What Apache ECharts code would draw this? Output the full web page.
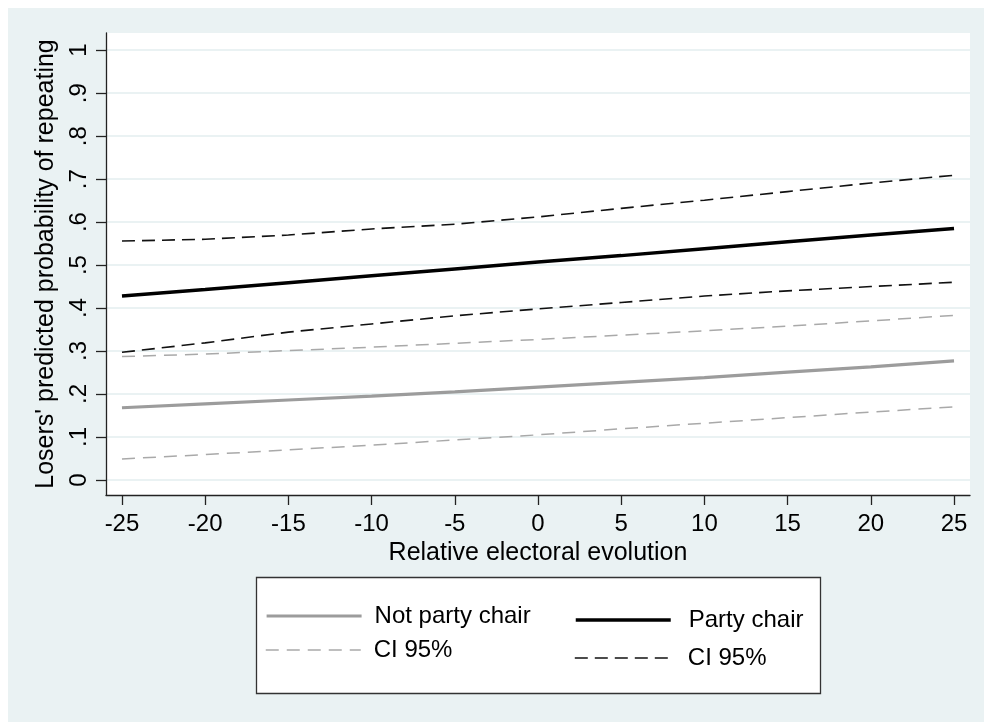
<!DOCTYPE html>
<html>
<head>
<meta charset="utf-8">
<script src="https://cdn.jsdelivr.net/npm/echarts@6/dist/echarts.min.js"></script>
<style>
  html, body { margin: 0; padding: 0; background: #ffffff; width: 984px; height: 722px; overflow: hidden; }
  #chart { position: absolute; left: 8px; top: 8px; width: 976px; height: 714px; }
</style>
</head>
<body>
<div id="chart"></div>
<script>
// ---- data ----
const xValues = [-25, -20, -15, -10, -5, 0, 5, 10, 15, 20, 25];
const notChair      = [0.168, 0.177, 0.186, 0.195, 0.205, 0.216, 0.227, 0.238, 0.251, 0.263, 0.277];
const notChairUpper = [0.287, 0.293, 0.301, 0.309, 0.318, 0.327, 0.337, 0.347, 0.358, 0.370, 0.383];
const notChairLower = [0.049, 0.059, 0.070, 0.081, 0.093, 0.105, 0.119, 0.132, 0.145, 0.158, 0.170];
const chair         = [0.428, 0.443, 0.459, 0.475, 0.491, 0.507, 0.522, 0.538, 0.554, 0.570, 0.585];
const chairUpper    = [0.556, 0.560, 0.570, 0.584, 0.595, 0.612, 0.632, 0.651, 0.671, 0.691, 0.709];
const chairLower    = [0.297, 0.319, 0.344, 0.363, 0.382, 0.398, 0.413, 0.428, 0.440, 0.450, 0.460];
const xTicks = [-25, -20, -15, -10, -5, 0, 5, 10, 15, 20, 25];
const yTicks = [0, 0.1, 0.2, 0.3, 0.4, 0.5, 0.6, 0.7, 0.8, 0.9, 1];
const xTitle = 'Relative electoral evolution';
const yTitle = "Losers' predicted probability of repeating";
const nameNotChair = 'Not party chair';
const nameChair = 'Party chair';
const nameCINot = 'CI 95% (not party chair)';
const nameCIChair = 'CI 95% (party chair)';
const ciLabel = 'CI 95%';

const pairs = (ys) => xValues.map((x, i) => [x, ys[i]]);
const FONT = 'Liberation Sans, Arial, sans-serif';

const chart = echarts.init(document.getElementById('chart'), null, { renderer: 'canvas' });

function yFmt(v) {
  const r = Math.round(v * 10) / 10;
  if (r === 0) return '0';
  if (r === 1) return '1';
  return String(r).replace(/^0/, '');
}

const grayDash = { color: '#a9a9a9', width: 1.5, type: [13, 8] };
const blackDash = { color: '#111111', width: 1.6, type: [13, 7] };

function legendAt(name, left, top, padLeft, lineWidth, formatter) {
  return {
    data: [name],
    left: left,
    top: top,
    padding: 0,
    itemWidth: 95,
    itemHeight: 14,
    selectedMode: false,
    itemStyle: { opacity: 0 },
    lineStyle: { width: lineWidth },
    formatter: formatter || '{name}',
    textStyle: { fontFamily: FONT, fontSize: 24, color: '#000', padding: [0, 0, 0, padLeft] }
  };
}

const option = {
  backgroundColor: '#eaf2f3',
  animation: false,
  grid: {
    left: 98, top: 25, width: 864, height: 462,
    show: true, backgroundColor: '#ffffff', borderWidth: 0,
    containLabel: false
  },
  xAxis: {
    type: 'value',
    min: -25.96, max: 25.96,
    name: xTitle,
    nameLocation: 'middle',
    nameGap: 42,
    nameTextStyle: { fontFamily: FONT, fontSize: 25, color: '#000' },
    axisLine: { show: true, onZero: false, lineStyle: { color: '#222', width: 1.3 } },
    axisTick: { show: true, inside: false, length: 10, customValues: xTicks, lineStyle: { color: '#222', width: 1.3 } },
    axisLabel: { customValues: xTicks, margin: 17, fontFamily: FONT, fontSize: 24, color: '#000' },
    splitLine: { show: false }
  },
  yAxis: {
    type: 'value',
    min: -0.035, max: 1.04,
    name: yTitle,
    nameLocation: 'middle',
    nameRotate: 90,
    nameGap: 44,
    nameTextStyle: { fontFamily: FONT, fontSize: 25, color: '#000' },
    axisLine: { show: true, onZero: false, lineStyle: { color: '#222', width: 1.3 } },
    axisTick: { show: true, inside: false, length: 10, customValues: yTicks, lineStyle: { color: '#222', width: 1.3 } },
    axisLabel: { customValues: yTicks, rotate: 90, margin: 15, fontFamily: FONT, fontSize: 24, color: '#000', formatter: yFmt },
    splitLine: { show: true, lineStyle: { color: '#eaf2f3', width: 2 } }
  },
  legend: [
    legendAt(nameNotChair, 265 - 8, 616 - 8 - 12, 8, 3.2),
    legendAt(nameCINot, 265 - 8, 650 - 8 - 12, 8, 1.5, () => ciLabel),
    legendAt(nameChair, 574 - 8, 620 - 8 - 12, 13, 3.5),
    legendAt(nameCIChair, 574 - 8, 658 - 8 - 12, 13, 1.6, () => ciLabel)
  ],
  graphic: [{
    type: 'rect',
    z: -1,
    shape: { x: 256.5 - 8, y: 577.5 - 8, width: 564, height: 116 },
    style: { fill: '#ffffff', stroke: '#333333', lineWidth: 1.3 }
  }],
  series: [
    { name: nameCINot, type: 'line', data: pairs(notChairUpper), symbol: 'none', lineStyle: grayDash, itemStyle: { color: '#a9a9a9' }, z: 2 },
    { name: nameCINot, type: 'line', data: pairs(notChairLower), symbol: 'none', lineStyle: grayDash, itemStyle: { color: '#a9a9a9' }, z: 2 },
    { name: nameNotChair, type: 'line', data: pairs(notChair), symbol: 'none', lineStyle: { color: '#9c9c9c', width: 3.2 }, itemStyle: { color: '#9c9c9c' }, z: 3 },
    { name: nameCIChair, type: 'line', data: pairs(chairUpper), symbol: 'none', lineStyle: blackDash, itemStyle: { color: '#111' }, z: 4 },
    { name: nameCIChair, type: 'line', data: pairs(chairLower), symbol: 'none', lineStyle: blackDash, itemStyle: { color: '#111' }, z: 4 },
    { name: nameChair, type: 'line', data: pairs(chair), symbol: 'none', lineStyle: { color: '#000000', width: 3.5 }, itemStyle: { color: '#000' }, z: 5 }
  ]
};
chart.setOption(option);
</script>
</body>
</html>
